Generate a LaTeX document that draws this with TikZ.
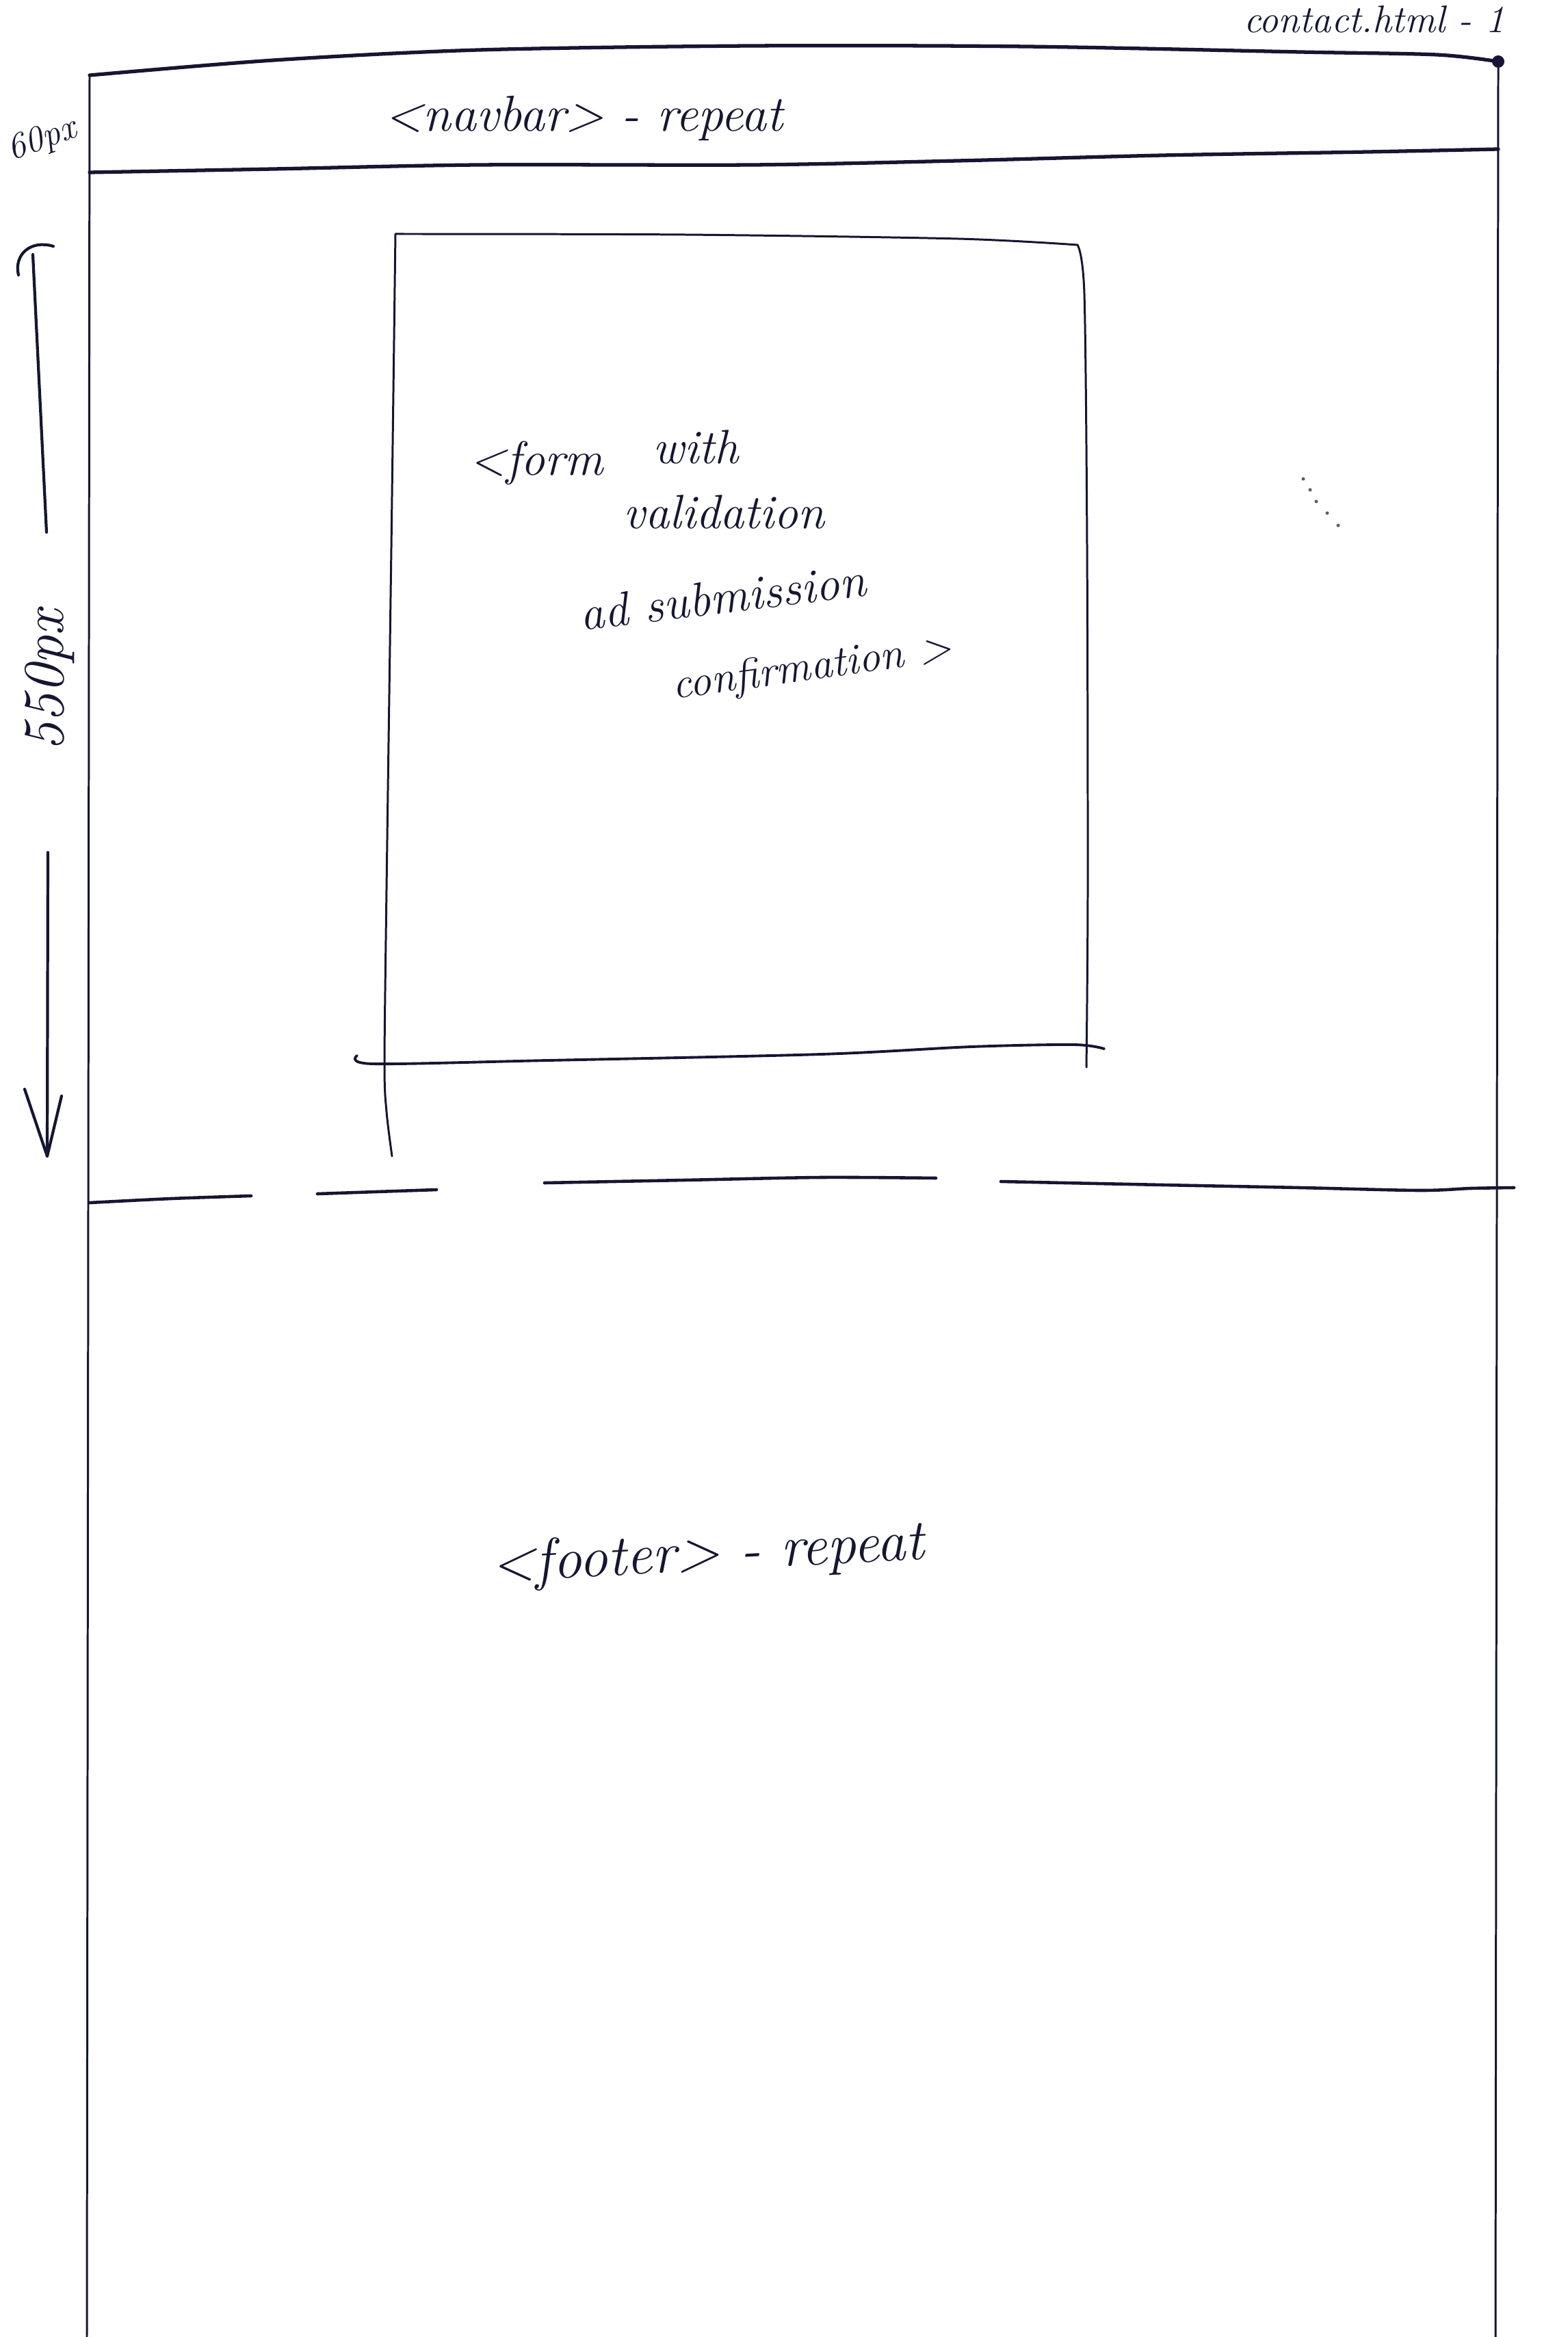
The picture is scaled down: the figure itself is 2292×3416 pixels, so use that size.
\documentclass[tikz,border=0pt]{standalone}
\usepackage{fontspec}
\definecolor{inkc}{RGB}{22,22,50}
\begin{document}
\begin{tikzpicture}[x=0.01cm,y=-0.01cm,
  thin stroke/.style={draw=inkc, line width=0.85pt, line cap=round, line join=round},
  heavy stroke/.style={draw=inkc, line width=1.5pt, line cap=round, line join=round},
  hand/.style={text=inkc, inner sep=0pt, font=\itshape\fontsize{#1}{#1}\selectfont},
  hand/.default=20]
\fill[white] (0,0) rectangle (2292,3416);
\useasboundingbox (0,0) rectangle (2292,3416);

% page title
\node[hand=16, anchor=base east] (title) at (2200,48) {contact.html - 1};

% outer page frame
\coordinate (ftl) at (131,110);
\coordinate (ftr) at (2190,90);
\coordinate (fbl) at (127,3416);
\coordinate (fbr) at (2186,3416);
\draw[thin stroke] (ftl) -- (fbl);
\draw[thin stroke] (ftr) -- (fbr);
\draw[heavy stroke] plot[smooth] coordinates {(131,110) (400,88) (700,73) (1100,67) (1500,68) (1900,76) (2100,80) (2190,90)};
\fill[inkc] (ftr) circle[radius=9];

% navbar band
\draw[heavy stroke] plot[smooth] coordinates {(131,252) (400,247) (700,241) (1100,241) (1400,235) (1700,227) (2000,222) (2190,218)};
\node[hand=21, anchor=base west] (navbar) at (562,192) {<navbar> - repeat};
\node[hand=15, rotate=20] (navh) at (62,205) {60px};

% height marker on the left margin
\coordinate (upTop) at (48,372);
\coordinate (upBot) at (68,778);
\draw[thin stroke, line width=1.2pt] (upBot) -- (upTop);
\draw[thin stroke, line width=1.2pt] (78,360) .. controls (45,350) and (20,372) .. (27,402);
\node[hand=24, rotate=90] (mainh) at (73,995) {550px};
\coordinate (dnTop) at (70,1246);
\coordinate (dnBot) at (69,1690);
\draw[thin stroke, line width=1.2pt] (dnTop) -- (dnBot);
\draw[thin stroke, line width=1.2pt] (36,1592) -- (dnBot) -- (90,1602);

% contact form box
\draw[thin stroke] plot[smooth] coordinates {(578,342) (1000,343) (1400,349) (1575,358)};
\draw[thin stroke] plot[smooth] coordinates {(578,342) (572,800) (565,1300) (562,1555) (565,1625) (573,1690)};
\draw[thin stroke] plot[smooth] coordinates {(1575,358) (1585,430) (1589,800) (1590,1300) (1588,1560)};
\draw[heavy stroke, line width=1.1pt] plot[smooth] coordinates {(522,1543) (545,1555) (800,1550) (1200,1541) (1420,1530) (1570,1527) (1614,1533)};

\node[hand=20, anchor=base west] (formA) at (686,695) {<form};
\node[hand=20, anchor=base west] (formB) at (954,678) {with};
\node[hand=20, anchor=base west] (formC) at (911,772) {validation};
\node[hand=20, anchor=base west, rotate=7] (formD) at (850,922) {ad submission};
\node[hand=18, anchor=base west, rotate=8] (formE) at (985,1022) {confirmation >};

% stray pencil specks
\foreach \px/\py in {1905/700,1915/716,1924/733,1940/750,1956/768}
  \fill[inkc!70] (\px,\py) circle[radius=2.5];

% section divider above the footer
\draw[heavy stroke, line width=1.3pt] plot[smooth] coordinates {(131,1758) (250,1752) (367,1748)};
\draw[heavy stroke, line width=1.3pt] plot[smooth] coordinates {(464,1745) (550,1742) (638,1739)};
\draw[heavy stroke, line width=1.3pt] plot[smooth] coordinates {(796,1729) (1000,1725) (1200,1721) (1368,1722)};
\draw[heavy stroke, line width=1.3pt] plot[smooth] coordinates {(1463,1727) (1700,1732) (1900,1736) (2075,1740) (2150,1737) (2213,1736)};

% footer label
\node[hand=24, anchor=base west, rotate=3] (footer) at (719,2312) {<footer> - repeat};
\end{tikzpicture}
\end{document}
